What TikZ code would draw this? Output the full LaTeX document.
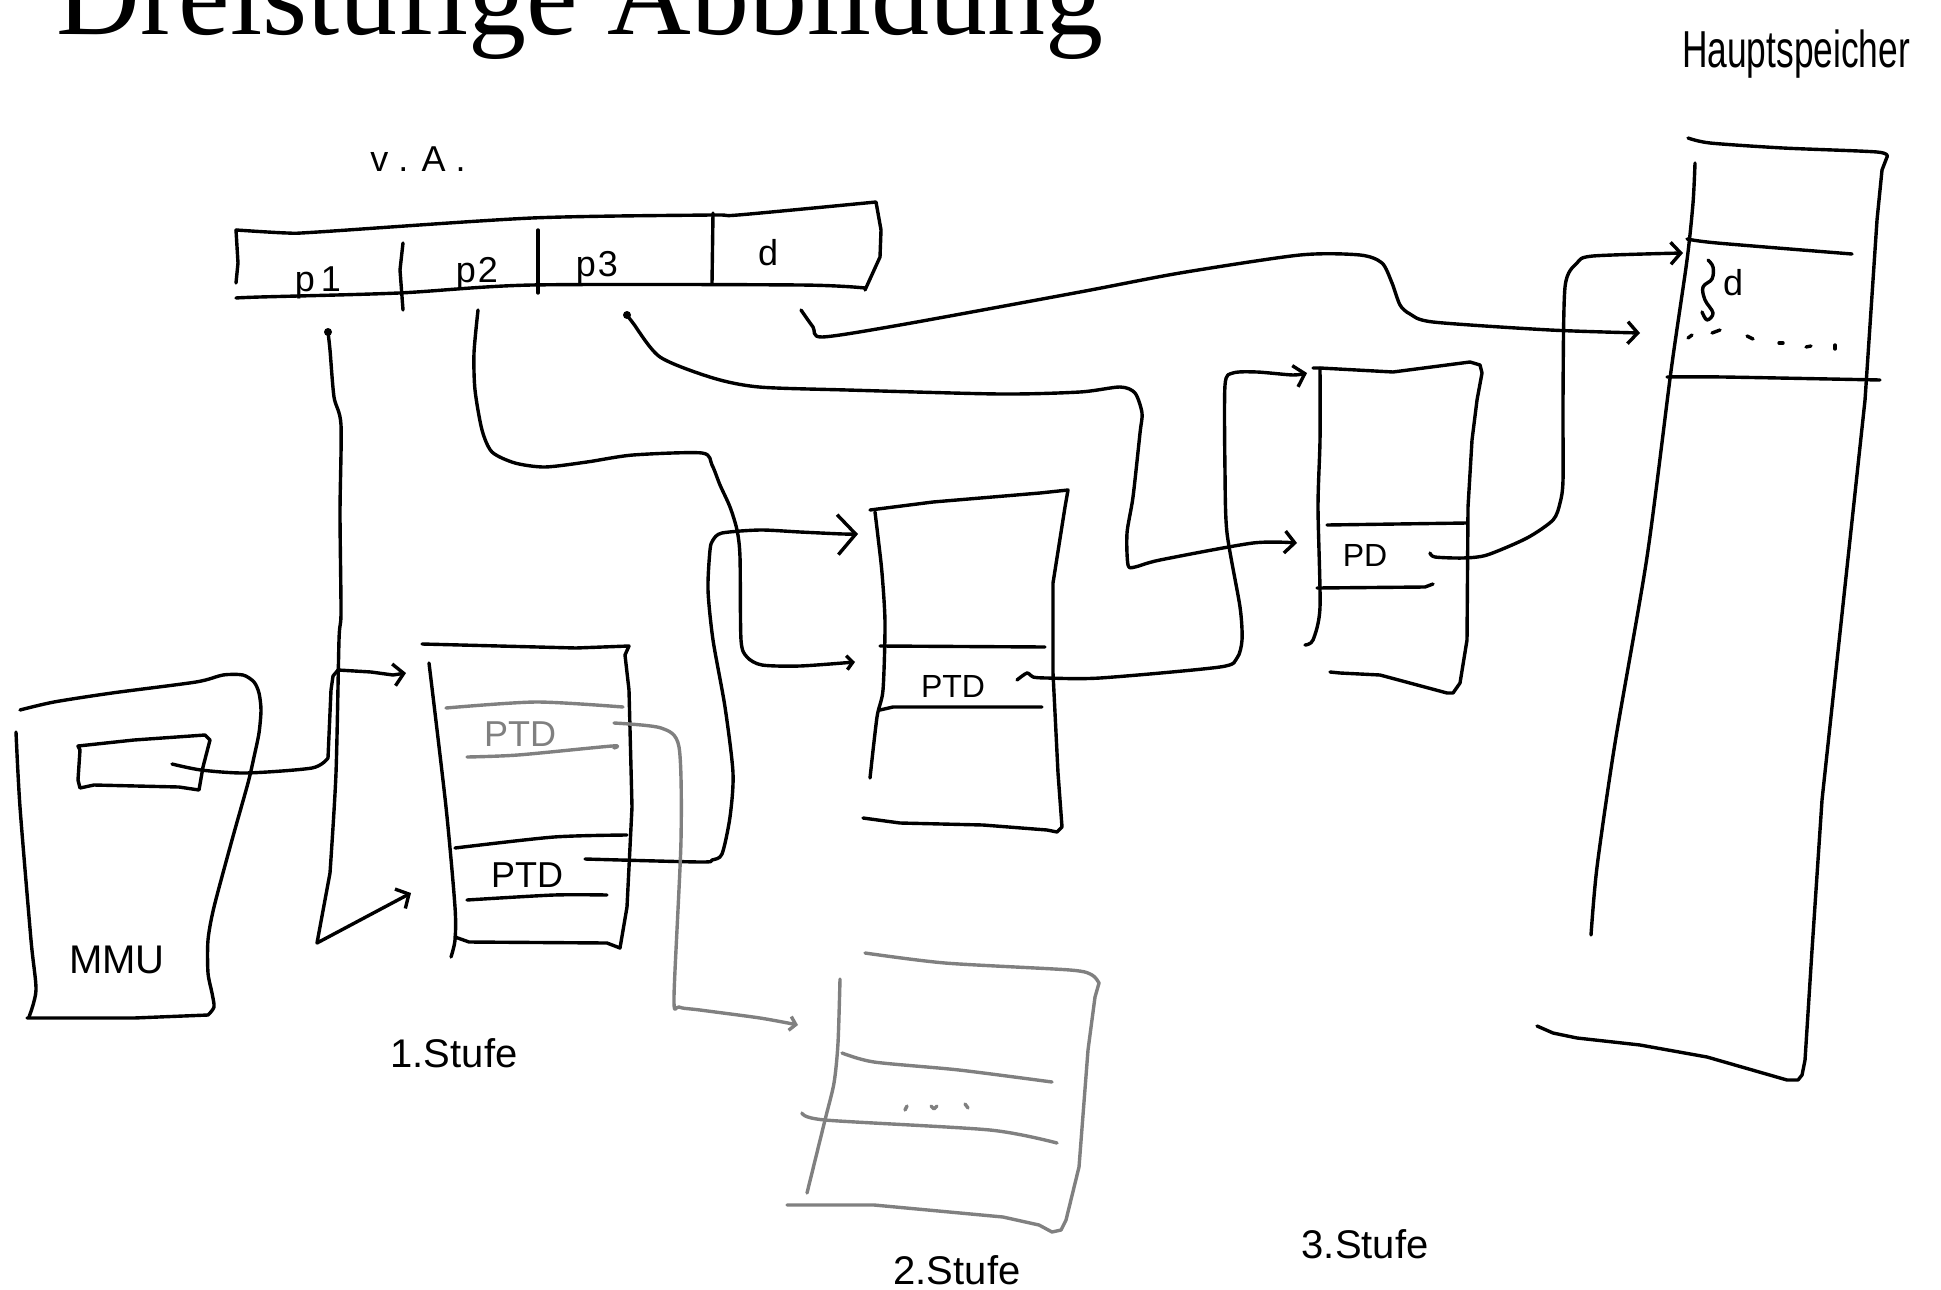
\documentclass[tikz,border=0pt]{standalone}
\usepackage{fontspec}
\setmainfont{Liberation Serif}
\newfontfamily\hand{Liberation Sans}
\usetikzlibrary{arrows.meta}
\definecolor{pengray}{RGB}{128,128,128}
\begin{document}
\begin{tikzpicture}[x=0.5pt,y=-0.5pt,
  ink/.style={line width=1.7pt,line cap=round,line join=round},
  inkg/.style={ink,draw=pengray},
  barb/.style={-{Straight Barb[length=5pt,width=11pt]}},
  bigbarb/.style={-{Straight Barb[length=9pt,width=20pt]}},
  smallbarb/.style={-{Straight Barb[length=3pt,width=7pt]}},
  lbl/.style={inner sep=0pt,anchor=base,font=\hand\fontsize{#1}{#1}\selectfont},
  sm/.style={smooth,tension=0.45},
]
\useasboundingbox (0,0) rectangle (1941,1289);
\clip (0,0) rectangle (1941,1289);

% ---------- texts ----------
\node[anchor=base west,inner sep=0pt,font=\fontsize{58}{60}\selectfont] (title) at (56,35) {Dreistufige Abbildung};
\node[lbl=26] (hs) at (1796,68) {\scalebox{0.68}[1]{Hauptspeicher}};
\node[lbl=18] (va) at (418,172) {v . A .};
\node[lbl=18] (lp1) at (318,291) {p\kern3pt 1};
\node[lbl=18] (lp2) at (477,282) {p\kern1pt 2};
\node[lbl=18] (lp3) at (597,276) {p\kern1pt 3};
\node[lbl=18] (ld) at (768,265) {d};
\node[lbl=20] (mmu) at (117,973) {MMU};
\node[lbl=18,text=pengray] (ptdg) at (520,746) {PTD};
\node[lbl=18] (ptd1) at (527,887) {PTD};
\node[lbl=16] (ptd2) at (953,697) {PTD};
\node[lbl=16] (pd) at (1365,566) {PD};
\node[lbl=18] (hsd) at (1733,295) {d};
\node[lbl=20] (s1) at (454,1067) {1.Stufe};
\node[lbl=20] (s2) at (957,1284) {2.Stufe};
\node[lbl=20] (s3) at (1365,1258) {3.Stufe};

% ---------- virtual address ----------
\draw[ink] plot[sm] coordinates {(236,230) (287,233) (318,232) (532,218) (711,215) (738,215) (876,202)}
  -- (881,230) -- (880,257) -- (865,290);
\draw[ink] (236,230) -- (238,263) -- (236,283);
\draw[ink] plot[sm] coordinates {(236,298) (260,297) (399,293) (532,285) (800,285) (865,288)};
\draw[ink] (403,243) -- (400,270) -- (403,310);
\draw[ink] (538,230) -- (538,293);
\draw[ink] (713,213) -- (712,283);

% ---------- MMU ----------
\draw[ink] plot[sm] coordinates {(20,710) (54,702) (112,693) (196,682) (223,675) (243,675) (254,682) (259,693) (261,710) (259,733) (254,757) (248,783) (232,840) (214,907) (208,940) (208,973) (212,993) (214,1007) (208,1015)}
  -- (134,1018) -- (27,1018);
\draw[ink] plot[sm] coordinates {(16,732) (20,807) (31,940) (36,990) (29,1017)};
\draw[ink] (80,750) -- (78,746) -- (134,740) -- (205,735) -- (210,740) -- (203,767) -- (199,790) -- (179,787) -- (94,785) -- (80,788) -- (78,780) -- cycle;

% ---------- 1. Stufe table ----------
\draw[ink] (422,644) -- (576,648) -- (629,646) -- (625,655) -- (629,690) -- (632,807) -- (627,907) -- (620,948) -- (607,943) -- (469,942) -- (455,937);
\draw[ink] plot[sm] coordinates {(429,663) (446,807) (455,907) (455,940) (451,957)};
\draw[inkg] plot[sm] coordinates {(446,708) (536,702) (623,707)};
\draw[inkg] plot[sm] coordinates {(467,757) (518,755) (612,746) (614,748)};
\draw[ink] plot[sm] coordinates {(455,848) (554,837) (627,835)};
\draw[ink] plot[sm] coordinates {(467,900) (554,895) (607,895)};

% ---------- 2. Stufe table ----------
\draw[ink] (870,510) -- (933,502) -- (1040,493) -- (1068,490) -- (1065,507) -- (1053,583) -- (1053,673) -- (1058,773) -- (1062,827) -- (1057,832) -- (1047,830) -- (983,825) -- (900,823) -- (863,818);
\draw[ink] plot[sm] coordinates {(875,512) (878,537) (882,573) (885,623) (883,690) (877,717) (870,778)};
\draw[ink] (880,646) -- (1045,647);
\draw[ink] (880,710) -- (893,707) -- (1042,707);

% ---------- other 2. Stufe table (gray) ----------
\draw[inkg] plot[sm] coordinates {(865,953) (945,963) (1070,970) (1092,975) (1099,983)}
  -- (1095,997) -- (1088,1050) -- (1079,1167) -- (1066,1220) -- (1061,1230) -- (1052,1232)
  -- (1039,1225) -- (1003,1217) -- (874,1205) -- (787,1205);
\draw[inkg] plot[sm] coordinates {(840,979) (838,1043) (834,1083) (825,1120) (807,1193)};
\draw[inkg] plot[sm] coordinates {(842,1053) (874,1062) (959,1070) (1052,1082)};
\draw[inkg] plot[sm] coordinates {(802,1113) (825,1120) (990,1130) (1057,1143)};
\draw[inkg] (905,1110) -- (907,1106);
\draw[inkg] (931,1106) -- (934,1109) -- (937,1106);
\draw[inkg] (965,1104) -- (968,1108);

% ---------- 3. Stufe table ----------
\draw[ink] (1313,368) -- (1320,368) -- (1393,372) -- (1470,362) -- (1480,365) -- (1482,373) -- (1477,400) -- (1472,440) -- (1468,507) -- (1467,640) -- (1460,683) -- (1453,693) -- (1447,693) -- (1380,675) -- (1340,673) -- (1330,672);
\draw[ink] plot[sm] coordinates {(1320,368) (1320,440) (1318,507) (1320,607) (1313,640) (1305,645)};
\draw[ink] (1327,525) -- (1467,523);
\draw[ink] (1317,588) -- (1425,587) -- (1433,584);

% ---------- Hauptspeicher ----------
\draw[ink] plot[sm] coordinates {(1688,138) (1710,143) (1783,148) (1877,152) (1887,157)}
  -- (1882,170) -- (1877,220) -- (1865,400) -- (1822,800) -- (1812,950) -- (1805,1060) -- (1802,1075) -- (1798,1080) -- (1787,1080)
  -- (1707,1057) -- (1640,1045) -- (1577,1038) -- (1553,1033) -- (1537,1026);
\draw[ink] plot[sm] coordinates {(1695,163) (1693,203) (1687,260) (1671,371) (1647,557) (1615,743) (1597,867) (1591,935)};
\draw[ink] plot[sm] coordinates {(1687,239) (1717,243) (1852,254)};
\draw[ink] plot[sm] coordinates {(1667,377) (1723,377) (1880,380)};
\draw[ink] plot[smooth,tension=0.6] coordinates {(1708,260) (1713,267) (1712,279) (1703,287) (1705,300) (1713,313) (1707,320) (1702,312)};
\foreach \a/\b in {{(1688,338)/(1692,335)},{(1712,333)/(1720,330)},{(1747,336)/(1753,339)},{(1779,343)/(1783,343)},{(1806,347)/(1811,346)},{(1835,345)/(1835,349)}}
  \draw[ink] \a -- \b;

% ---------- connector end points ----------
\coordinate (p1dot) at (328,332);
\coordinate (p2start) at (478,310);
\coordinate (p3dot) at (627,315);
\coordinate (dstart) at (801,310);
\coordinate (mmuout) at (172,764);
\coordinate (ptdgout) at (614,723);
\coordinate (ptd1out) at (585,859);
\coordinate (ptd2out) at (1017,680);
\coordinate (pdout) at (1430,553);
\coordinate (t1top) at (406,673);
\coordinate (t1mid) at (411,893);
\coordinate (t2top) at (858,534);
\coordinate (t2mid) at (855,662);
\coordinate (t3top) at (1307,373);
\coordinate (t3mid) at (1297,543);
\coordinate (hstop) at (1683,253);
\coordinate (hsmid) at (1640,333);
\coordinate (g2in) at (798,1025);

% ---------- connectors ----------
\fill (p1dot) circle[radius=2pt];
\fill (p3dot) circle[radius=2pt];
\draw[ink,barb] plot[sm] coordinates {(p1dot) (330,350) (334,397) (341,425) (340,513) (341,613) (339,640) (336,773) (330,873)}
  -- (317,943) -- (t1mid);
\draw[ink,barb] plot[sm] coordinates {(mmuout) (201,770) (246,773) (312,768) (328,758)}
  -- (331,690) -- (333,676) -- (338,670) -- (371,672) -- (393,675) -- (t1top);
\draw[ink,smallbarb] plot[sm] coordinates {(p2start) (474,353) (475,390) (482,430) (492,452) (515,463) (545,467) (587,462) (633,455) (702,453) (712,465) (720,485) (730,507) (737,530) (740,557) (741,640) (747,657) (762,665) (800,666) (t2mid)};
\draw[ink,barb] plot[sm] coordinates {(p3dot) (633,323) (660,357) (713,378) (759,387) (847,390) (1000,394) (1080,392) (1120,387) (1135,393) (1142,413) (1140,433) (1133,497) (1127,533) (1128,565) (1135,567) (1160,560) (1253,543) (t3mid)};
\draw[ink,barb] plot[sm] coordinates {(dstart) (813,327) (822,337) (900,325) (1080,292) (1180,273) (1300,255) (1360,255) (1382,263) (1392,283) (1400,305) (1410,314) (1433,322) (1550,330) (hsmid)};
\draw[ink,bigbarb] plot[sm] coordinates {(ptd1out) (700,862) (712,860) (722,854) (730,817) (733,773) (725,707) (713,640) (708,590) (710,550) (713,540) (722,533) (760,530) (800,532) (843,534) (t2top)};
\draw[ink,barb] plot[sm] coordinates {(ptd2out) (1027,673) (1033,677) (1047,678) (1100,678) (1220,667) (1237,658) (1242,640) (1240,607) (1227,533) (1225,473) (1225,385) (1233,373) (1257,372) (1293,375) (t3top)};
\draw[ink,barb] plot[sm] coordinates {(pdout) (1435,557) (1463,558) (1487,555) (1527,538) (1553,520) (1560,503) (1563,480) (1563,397) (1565,287) (1577,263) (1593,256) (hstop)};
\draw[inkg,smallbarb] plot[sm] coordinates {(ptdgout) (661,728) (679,747) (681,840) (674,997) (679,1007) (700,1010) (760,1018) (g2in)};
\end{tikzpicture}
\end{document}
